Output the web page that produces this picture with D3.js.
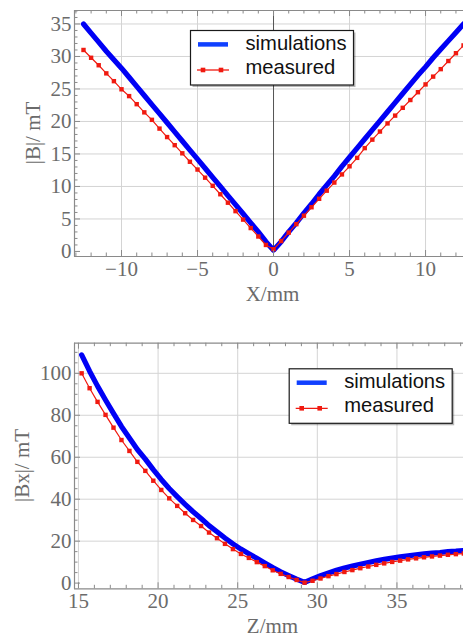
<!DOCTYPE html>
<html><head><meta charset="utf-8">
<script src="https://cdn.jsdelivr.net/npm/d3@7"></script>
<style>
html,body{margin:0;padding:0;background:#fff;}
svg{display:block;}
</style>
</head><body>
<script>
// ---------- DATA ----------
// Top panel: |B| vs X (mm), sampled every 0.5 mm from -12.5 to 12.5
const topX = d3.range(-12.5, 12.51, 0.5);
const topSimulations = [35.0,33.6,32.2,30.8,29.5,28.2,26.8,25.4,24.0,22.6,21.2,19.8,18.4,17.0,15.6,14.2,12.8,11.4,10.0,8.6,7.2,5.8,4.4,3.0,1.5,
  0.2,
  1.5,3.0,4.4,5.9,7.3,8.8,10.2,11.6,13.1,14.5,15.9,17.3,18.7,20.1,21.5,22.9,24.3,25.7,27.1,28.4,29.8,31.1,32.4,33.7,35.0];
const topMeasured = [31.0,29.8,28.65,27.4,26.2,24.95,23.9,22.66,21.4,20.25,18.9,17.6,16.35,15.1,13.8,12.6,11.35,10.1,8.8,7.5,6.2,4.9,3.6,2.3,1.0,
  0.35,
  1.6,2.9,4.2,5.5,6.8,8.1,9.35,10.6,11.85,13.1,14.4,15.9,17.2,18.45,19.7,20.9,22.1,23.3,24.5,25.7,26.9,28.05,29.3,30.5,31.7];
const topXTicks = [-10,-5,0,5,10];
const topYTicks = [0,5,10,15,20,25,30,35];

// Bottom panel: |Bx| vs Z (mm), sampled every 0.5 mm from 15.2 to 39.7
const botZ = d3.range(15.2, 39.71, 0.5);
const botSimulations = [108.8,101.0,93.9,87.3,80.9,74.7,69.2,63.7,59.1,54.1,49.4,45.1,41.2,37.5,34.0,30.8,27.4,24.5,21.5,18.7,16.2,14.0,11.8,9.6,7.4,5.4,3.6,1.9,0.3,
  2.0,3.5,4.8,6.1,7.2,8.1,9.0,9.8,10.6,11.3,11.9,12.5,13.0,13.5,13.9,14.3,14.6,15.0,15.2,15.5,15.8];
const botMeasured = [100.0,92.9,86.4,80.2,74.1,68.2,63.0,57.8,53.5,48.8,44.4,40.4,36.8,33.3,30.1,27.2,24.1,21.4,18.7,16.2,13.9,12.0,10.0,8.1,6.1,4.4,2.9,1.5,0.2,
  1.1,2.2,3.3,4.3,5.3,6.2,7.1,7.9,8.7,9.4,10.1,10.7,11.3,11.8,12.3,12.7,13.1,13.5,13.8,14.1,14.4];
const botXTicks = [15,20,25,30,35];
const botYTicks = [0,20,40,60,80,100];

const seriesNames = ["simulations","measured"];

// ---------- STYLE ----------
const W = 463, H = 639;
const BLUE = "#0000f5", RED = "#f01a10";
const FRAME = "#8a8a8a", GRID = "#d4d4d4", LABEL = "#6b6b6b";
const SERIF = "'Liberation Serif','DejaVu Serif',serif";
const SANS = "'Liberation Sans',Arial,sans-serif";

const svg = d3.select("body").append("svg").attr("width", W).attr("height", H);
const fmt = v => (v < 0 ? "\u2212" + Math.abs(v) : String(v));

function panel(o) {
  const x = d3.scaleLinear().domain(o.xDomain).range([o.left, o.right]);
  const y = d3.scaleLinear().domain(o.yDomain).range([o.bottom, o.top]);
  const g = svg.append("g");
  const clipId = "clip" + o.id;
  g.append("clipPath").attr("id", clipId).append("rect")
    .attr("x", o.left).attr("y", o.top).attr("width", o.right - o.left).attr("height", o.bottom - o.top);
  const inner = g.append("g").attr("clip-path", `url(#${clipId})`);

  // grid lines
  inner.selectAll(".gx").data(o.xGrid).join("line")
    .attr("x1", d => x(d)).attr("x2", d => x(d)).attr("y1", o.top).attr("y2", o.bottom)
    .attr("stroke", GRID).attr("stroke-width", 1);
  inner.selectAll(".gy").data(o.yGrid).join("line")
    .attr("x1", o.left).attr("x2", o.right).attr("y1", d => y(d)).attr("y2", d => y(d))
    .attr("stroke", GRID).attr("stroke-width", 1);

  if (o.vAxisAt !== undefined) {
    inner.append("line").attr("x1", x(o.vAxisAt)).attr("x2", x(o.vAxisAt))
      .attr("y1", o.top).attr("y2", o.bottom).attr("stroke", "#555").attr("stroke-width", 1);
  }

  const line = d3.line().x(d => x(d[0])).y(d => y(d[1]));
  const sim = o.xs.map((v, i) => [v, o.sim[i]]);
  const meas = o.xs.map((v, i) => [v, o.meas[i]]);
  inner.append("path").attr("d", line(sim)).attr("fill", "none")
    .attr("stroke", BLUE).attr("stroke-width", 5.2).attr("stroke-linejoin", "round").attr("stroke-linecap", "round");
  inner.append("path").attr("d", line(meas)).attr("fill", "none")
    .attr("stroke", RED).attr("stroke-width", 1.2);
  inner.selectAll(".mk").data(meas).join("rect")
    .attr("x", d => x(d[0]) - 2.2).attr("y", d => y(d[1]) - 2.2)
    .attr("width", 4.4).attr("height", 4.4).attr("fill", RED);

  // frame
  g.append("line").attr("x1", o.left).attr("x2", o.right + 5).attr("y1", o.top + 0.5).attr("y2", o.top + 0.5).attr("stroke", FRAME).attr("stroke-width", 1.2);
  g.append("line").attr("x1", o.left).attr("x2", o.right + 5).attr("y1", o.bottom + 0.5).attr("y2", o.bottom + 0.5).attr("stroke", FRAME).attr("stroke-width", 1.2);
  g.append("line").attr("x1", o.left + 0.5).attr("x2", o.left + 0.5).attr("y1", o.top).attr("y2", o.bottom + 0.5).attr("stroke", FRAME).attr("stroke-width", 1.2);

  // ticks (inward), major + minor
  const xMinor = d3.range(Math.ceil(o.xDomain[0]), o.xDomain[1] + 0.001, o.xMinorStep).filter(v => !o.xTicks.includes(v));
  const yMinor = d3.range(Math.ceil(o.yDomain[0] / o.yMinorStep) * o.yMinorStep, o.yDomain[1] + 0.001, o.yMinorStep).filter(v => !o.yTicks.includes(v));
  const tk = g.append("g").attr("stroke", FRAME).attr("stroke-width", 1);
  [[o.xTicks, 6], [xMinor, 3.5]].forEach(([arr, len]) => {
    tk.selectAll(null).data(arr).join("line")
      .attr("x1", d => x(d)).attr("x2", d => x(d)).attr("y1", o.bottom).attr("y2", o.bottom - len);
    tk.selectAll(null).data(arr).join("line")
      .attr("x1", d => x(d)).attr("x2", d => x(d)).attr("y1", o.top).attr("y2", o.top + len);
  });
  [[o.yTicks, 6], [yMinor, 3.5]].forEach(([arr, len]) => {
    tk.selectAll(null).data(arr).join("line")
      .attr("x1", o.left).attr("x2", o.left + len).attr("y1", d => y(d)).attr("y2", d => y(d));
  });

  // tick labels
  g.selectAll(".xl").data(o.xTicks).join("text")
    .attr("x", d => x(d)).attr("y", o.bottom + 19.5).attr("text-anchor", "middle")
    .attr("font-family", SERIF).attr("font-size", 21).attr("fill", LABEL).text(fmt);
  g.selectAll(".yl").data(o.yTicks).join("text")
    .attr("x", o.left - 2.5).attr("y", d => y(d) + 7).attr("text-anchor", "end")
    .attr("font-family", SERIF).attr("font-size", 21).attr("fill", LABEL).text(fmt);

  // axis titles
  g.append("text").attr("x", (o.left + o.right) / 2).attr("y", o.xTitleY).attr("text-anchor", "middle")
    .attr("font-family", SERIF).attr("font-size", 21).attr("fill", LABEL).text(o.xTitle);
  g.append("text").attr("transform", `translate(${o.yTitleX},${(o.top + o.bottom) / 2}) rotate(-90)`)
    .attr("text-anchor", "middle").attr("font-family", SERIF).attr("font-size", 21).attr("fill", LABEL).text(o.yTitle);

  // legend
  const L = o.legend, lw = 163, lh = 54.5;
  const lg = svg.append("g").attr("transform", `translate(${L[0]},${L[1]})`);
  lg.append("rect").attr("x", 2.5).attr("y", 2.5).attr("width", lw).attr("height", lh).attr("fill", "rgba(0,0,0,0.28)");
  lg.append("rect").attr("x", 0.5).attr("y", 0.5).attr("width", lw).attr("height", lh)
    .attr("fill", "#fff").attr("stroke", "#1a1a1a").attr("stroke-width", 1.2);
  lg.append("line").attr("x1", 8).attr("x2", 38).attr("y1", 14.4).attr("y2", 14.4).attr("stroke", "#1040ff").attr("stroke-width", 4.5);
  lg.append("line").attr("x1", 7).attr("x2", 39).attr("y1", 40).attr("y2", 40).attr("stroke", RED).attr("stroke-width", 1.3);
  [13, 31].forEach(px => lg.append("rect").attr("x", px - 2.3).attr("y", 40 - 2.3).attr("width", 4.6).attr("height", 4.6).attr("fill", RED));
  lg.append("text").attr("x", 55.5).attr("y", 19.8).attr("font-family", SANS).attr("font-size", 20.2).attr("fill", "#111").text(seriesNames[0]);
  lg.append("text").attr("x", 55.5).attr("y", 43.5).attr("font-family", SANS).attr("font-size", 20.2).attr("fill", "#111").text(seriesNames[1]);
}

panel({
  id: "top", left: 74, right: 471, top: 10, bottom: 256,
  xDomain: [-13.125, 12.99], yDomain: [-0.7, 37.15],
  xs: topX, sim: topSimulations, meas: topMeasured,
  xTicks: topXTicks, yTicks: topYTicks, xMinorStep: 1, yMinorStep: 1,
  xGrid: [-10, -5, 5, 10], yGrid: [5, 10, 15, 20, 25, 30, 35], vAxisAt: 0,
  xTitle: "X/mm", yTitle: "|B|/ mT", xTitleY: 301, yTitleX: 40,
  legend: [190, 30]
});

panel({
  id: "bot", left: 74, right: 471, top: 342.7, bottom: 588.3,
  xDomain: [14.72, 39.65], yDomain: [-2.48, 114.6],
  xs: botZ, sim: botSimulations, meas: botMeasured,
  xTicks: botXTicks, yTicks: botYTicks, xMinorStep: 1, yMinorStep: 5,
  xGrid: [15, 20, 25, 30, 35], yGrid: [20, 40, 60, 80, 100],
  xTitle: "Z/mm", yTitle: "|Bx|/ mT", xTitleY: 633, yTitleX: 28.5,
  legend: [288.7, 368.3]
});
</script>
</body></html>
